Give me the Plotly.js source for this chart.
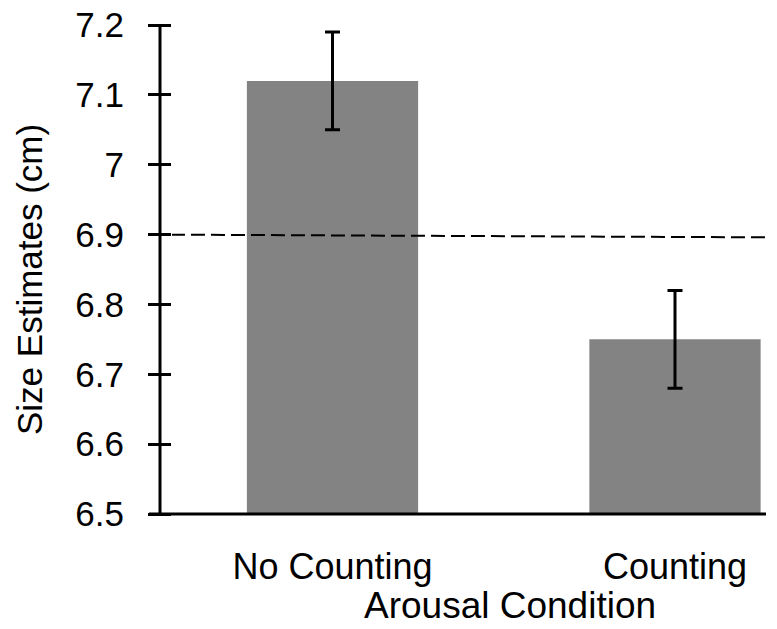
<!DOCTYPE html>
<html><head><meta charset="utf-8">
<script src="https://cdn.plot.ly/plotly-3.0.1.min.js"></script>
<style>html,body{margin:0;padding:0;background:#fff}</style>
</head><body>
<div id="chart" style="width:777px;height:629px"></div>
<script>
const categories = ["No Counting", "Counting"];
const sizeEstimates = [7.12, 6.75];
const errors = [0.07, 0.07];
const refLineX = [-0.53, 1.27];
const refLineY = [6.9, 6.896];
const yTicks = [6.5, 6.6, 6.7, 6.8, 6.9, 7.0, 7.1, 7.2];

const FONT = "Liberation Sans, Arial, sans-serif";
const PLOT_W = 777 - 172 - 11;
const PLOT_H = 629 - 25 - 115;

const traces = [
  {
    type: "bar", x: [0, 1], y: sizeEstimates, width: 0.5,
    marker: {color: "#838383", line: {width: 0}},
    error_y: {type: "data", array: errors, visible: true, color: "#000", thickness: 3, width: 7.5},
    hoverinfo: "none"
  },
  {
    type: "scatter", mode: "lines", x: refLineX, y: refLineY,
    line: {color: "#000", width: 2, dash: "14px,6px"}, cliponaxis: false, hoverinfo: "none"
  }
];

const layout = {
  width: 777, height: 629,
  margin: {l: 172, r: 11, t: 25, b: 115},
  paper_bgcolor: "#fff", plot_bgcolor: "rgba(0,0,0,0)",
  showlegend: false,
  font: {family: FONT, color: "#000", size: 35},
  xaxis: {
    range: [-0.4686, 1.2657], tickvals: [0, 1], ticktext: categories,
    showgrid: false, zeroline: false, showline: false,
    ticks: "", ticklabelstandoff: 28, tickfont: {size: 36, family: FONT}
  },
  yaxis: {
    range: [6.5, 7.2], tickvals: yTicks, showgrid: false, zeroline: false,
    showline: false,
    ticks: "outside", ticklen: 23, tickwidth: 3, tickcolor: "#000",
    ticklabelstandoff: 17, tickfont: {size: 35, family: FONT}
  },
  shapes: [
    {type: "line", xref: "paper", yref: "paper", x0: -12 / PLOT_W, x1: -12 / PLOT_W, y0: 0, y1: 1,
     line: {color: "#000", width: 3}},
    {type: "line", xref: "paper", yref: "paper", x0: -23 / PLOT_W, x1: 1, y0: 0, y1: 0,
     line: {color: "#000", width: 3}}
  ],
  annotations: [
    {
      text: "Arousal Condition", xref: "paper", yref: "paper",
      x: (510 - 172) / PLOT_W, y: -(605 - 514) / PLOT_H, xanchor: "center", yanchor: "middle",
      showarrow: false, font: {size: 37, family: FONT}
    },
    {
      text: "Size Estimates (cm)", xref: "paper", yref: "paper", textangle: -90,
      x: (29 - 172) / PLOT_W, y: (514 - 280) / PLOT_H, xanchor: "center", yanchor: "middle",
      showarrow: false, font: {size: 35, family: FONT}
    }
  ]
};

Plotly.newPlot("chart", traces, layout, {staticPlot: true});
</script>
</body></html>
